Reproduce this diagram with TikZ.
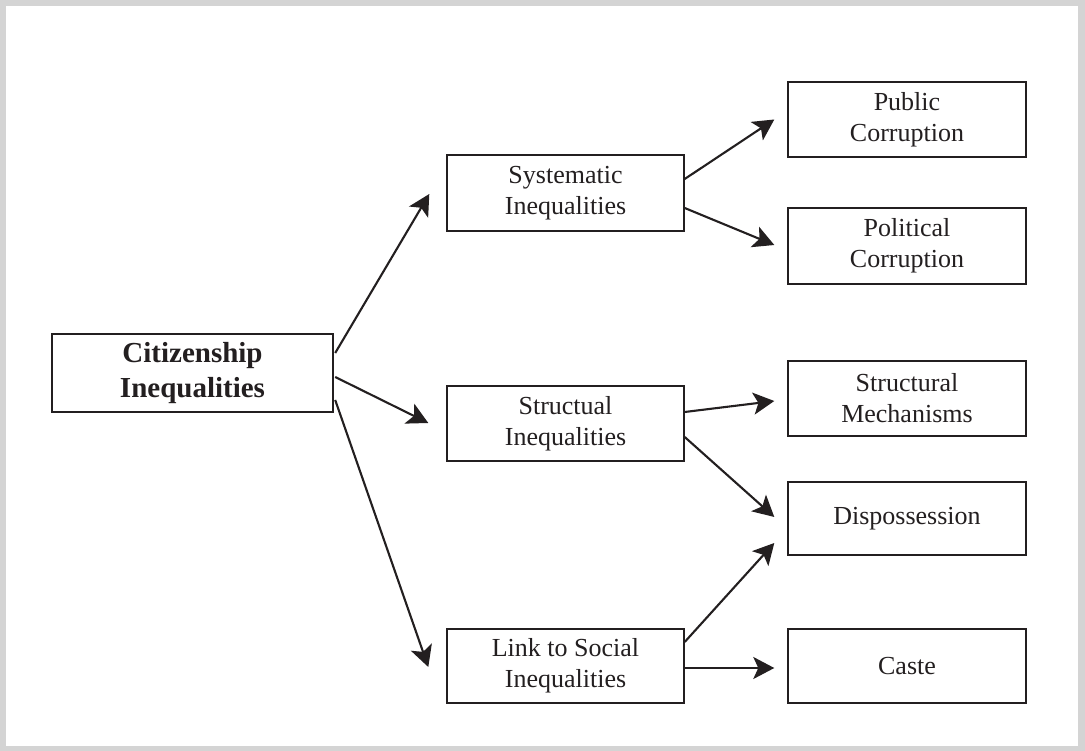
\documentclass[tikz,border=0pt]{standalone}
\usepackage{fontspec}
\setmainfont{Liberation Serif}
\usetikzlibrary{arrows.meta}
\definecolor{ink}{HTML}{231F20}
\definecolor{frame}{HTML}{D4D4D4}
\tikzset{
  box/.style={draw=ink, line width=1.4pt, text=ink, inner sep=0pt, minimum width=238pt, minimum height=75pt, align=center, font=\fontsize{26}{31}\selectfont},
  mainbox/.style={box, line width=2.4pt, minimum width=281pt, minimum height=78pt, font=\fontsize{29}{35}\selectfont\bfseries},
  arr/.style={draw=ink, line width=2.1pt, -{Stealth[length=21pt, width=22pt, inset=5pt]}}
}
\begin{document}
\begin{tikzpicture}[x=1pt, y=-1pt]
\fill[frame] (0,0) rectangle (1085,751);
\fill[white] (6,6) rectangle (1078,746);
\useasboundingbox (0,0) rectangle (1085,751);

\node[mainbox] (cit) at (192.5,373) {Citizenship\\Inequalities};
\node[box, minimum width=237pt, minimum height=76pt] (sys) at (565.5,193) {Systematic\\Inequalities};
\node[box, minimum width=237pt] (str) at (565.5,423.5) {Structual\\Inequalities};
\node[box, minimum width=237pt, minimum height=74pt] (link) at (565.5,666) {Link to Social\\Inequalities};

\node[box] (pub) at (907,119.5) {Public\\Corruption};
\node[box, minimum height=76pt] (pol) at (907,246) {Political\\Corruption};
\node[box] (mech) at (907,398.5) {Structural\\Mechanisms};
\node[box, minimum height=73pt] (disp) at (907,518.5) {Dispossession};
\node[box, minimum height=74pt] (caste) at (907,666) {Caste};

\draw[arr] ([xshift=1pt,yshift=20pt]cit.east) -- ([xshift=-17pt,yshift=-1pt]sys.west);
\draw[arr] ([xshift=1pt,yshift=-4pt]cit.east) -- ([xshift=-18pt,yshift=0.5pt]str.west);
\draw[arr] ([xshift=1pt,yshift=-27pt]cit.east) -- ([xshift=-18pt,yshift=-1pt]link.west);

\draw[arr] ([yshift=14pt]sys.east) -- ([xshift=-13pt]pub.west);
\draw[arr] ([yshift=-15pt]sys.east) -- ([xshift=-13pt,yshift=1pt]pol.west);
\draw[arr] ([yshift=11.5pt]str.east) -- ([xshift=-13pt,yshift=-2.5pt]mech.west);
\draw[arr] ([yshift=-13.5pt]str.east) -- ([xshift=-13pt,yshift=1.5pt]disp.west);
\draw[arr] ([yshift=24pt]link.east) -- ([xshift=-13pt,yshift=-24.5pt]disp.west);
\draw[arr] ([yshift=-2pt]link.east) -- ([xshift=-13pt,yshift=-2pt]caste.west);
\end{tikzpicture}
\end{document}
